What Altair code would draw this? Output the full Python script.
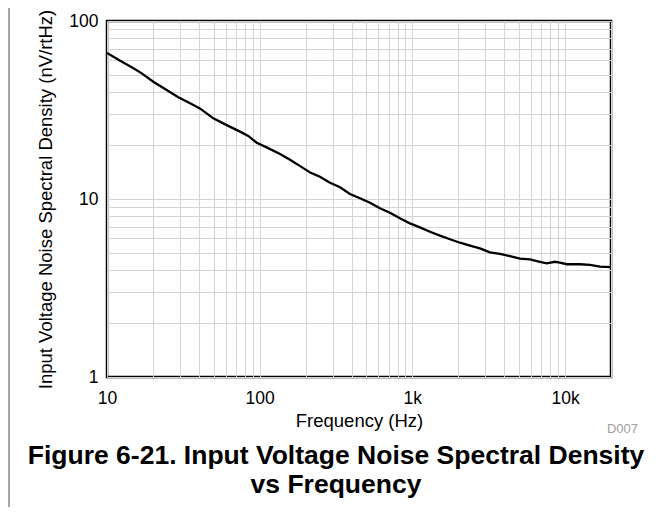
import altair as alt
import pandas as pd

# Curve data (frequency in Hz, noise in nV/rtHz)
freq = [10, 12.2, 14.9, 16.9, 20.1, 24.6, 29.3, 35.0, 40.6, 49.7, 60.8, 74.3, 84.2, 95.6,
        111, 136, 158, 184, 214, 248, 289, 336, 390, 454, 528, 613, 713, 829, 964,
        1121, 1304, 1516, 1763, 2050, 2384, 2772, 3223, 3747, 4357, 5067, 5892, 6849,
        7577, 8587, 9260, 10245, 12520, 14560, 16930, 20000]
noise = [66.1, 59.8, 54.2, 50.8, 45.6, 41.0, 37.3, 34.5, 32.3, 28.4, 26.0, 23.9, 22.6, 20.7,
         19.5, 17.9, 16.6, 15.3, 14.1, 13.35, 12.35, 11.63, 10.67, 10.09, 9.53, 8.87, 8.38, 7.79, 7.30,
         6.93, 6.55, 6.23, 5.94, 5.68, 5.47, 5.28, 5.02, 4.91, 4.78, 4.62, 4.58, 4.44,
         4.35, 4.44, 4.39, 4.30, 4.30, 4.26, 4.17, 4.14]

x_grid = [10, 20, 30, 40, 50, 60, 70, 80, 90,
          100, 200, 300, 400, 500, 600, 700, 800, 900,
          1000, 2000, 3000, 4000, 5000, 6000, 7000, 8000, 9000,
          10000, 20000]
x_label_values = [10, 100, 1000, 10000]
x_label_texts = ["10", "100", "1k", "10k"]

y_grid = [1, 2, 3, 4, 5, 6, 7, 8, 9, 10, 20, 30, 40, 50, 60, 70, 80, 90, 100]
y_label_values = [1, 10, 100]
y_label_texts = ["1", "10", "100"]

x_title = "Frequency (Hz)"
y_title = "Input Voltage Noise Spectral Density (nV/rtHz)"
caption_lines = ["Figure 6-21. Input Voltage Noise Spectral Density", "vs Frequency"]
figure_id = "D007"

FONT = "Liberation Sans"


def label_expr(values, texts):
    expr = "''"
    for v, t in reversed(list(zip(values, texts))):
        expr = f"datum.value == {v} ? '{t}' : ({expr})"
    return expr


df = pd.DataFrame({"freq": freq, "noise": noise})

line = alt.Chart(df).mark_line(color="black", strokeWidth=2.3, clip=True).encode(
    x=alt.X("freq:Q",
            scale=alt.Scale(type="log", domain=[10, 20000], nice=False),
            axis=alt.Axis(values=x_grid, labelExpr=label_expr(x_label_values, x_label_texts),
                          title=x_title, titleY=49, titleBaseline="alphabetic",
                          labelPadding=12, labelFlush=False, labelOverlap=False)),
    y=alt.Y("noise:Q",
            scale=alt.Scale(type="log", domain=[1, 100], nice=False),
            axis=alt.Axis(values=y_grid, labelExpr=label_expr(y_label_values, y_label_texts),
                          title=y_title, titleX=-56, titleBaseline="alphabetic",
                          labelPadding=9, labelFlush=False, labelOverlap=False)),
)

cap1 = alt.Chart(pd.DataFrame({"t": [caption_lines[0]]})).mark_text(
    font=FONT, fontSize=26.5, fontWeight="bold", align="center", baseline="alphabetic", color="black"
).encode(text="t:N", x=alt.value(229), y=alt.value(443))

cap2 = alt.Chart(pd.DataFrame({"t": [caption_lines[1]]})).mark_text(
    font=FONT, fontSize=26.5, fontWeight="bold", align="center", baseline="alphabetic", color="black"
).encode(text="t:N", x=alt.value(229), y=alt.value(472))

fid = alt.Chart(pd.DataFrame({"t": [figure_id]})).mark_text(
    font=FONT, fontSize=13, align="right", baseline="alphabetic", color="#a0a0a0"
).encode(text="t:N", x=alt.value(531), y=alt.value(412))

frame = alt.Chart(pd.DataFrame({"a": [0]})).mark_rule(color="#888888", strokeWidth=1.5).encode(
    x=alt.value(-98), y=alt.value(-13), y2=alt.value(502)
)

chart = alt.layer(line, cap1, cap2, fid, frame).properties(
    width=504, height=356,
    autosize=alt.AutoSizeParams(type="none"),
    padding={"left": 99, "top": 13, "right": 40, "bottom": 130},
    background="white",
).configure_view(
    stroke="black", strokeWidth=2.5
).configure_axis(
    grid=True, gridColor="#d4d4d4", gridWidth=1, domain=False, ticks=False,
    labelFont=FONT, labelFontSize=17.5, labelColor="black",
    titleFont=FONT, titleFontSize=18.5, titleFontWeight="normal", titleColor="black",
)

chart.save("out.html", embed_options={"renderer": "svg", "actions": False})
